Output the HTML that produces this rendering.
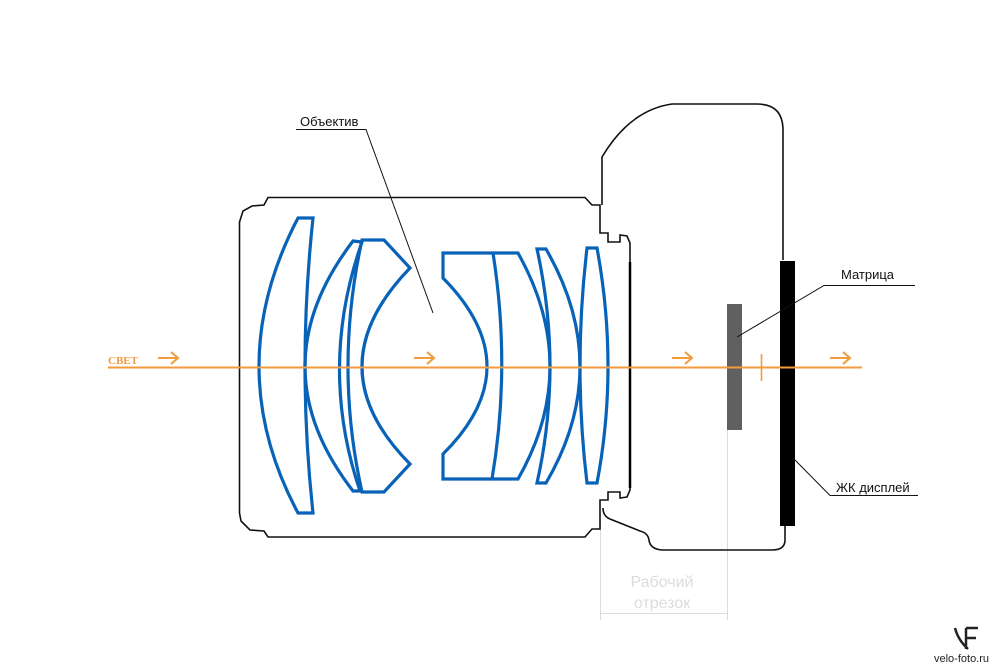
<!DOCTYPE html>
<html><head><meta charset="utf-8"><style>
html,body{margin:0;padding:0;background:#fff;}
svg{display:block}
text{font-family:"Liberation Sans",Arial,sans-serif;}
</style></head><body>
<svg width="1000" height="667" viewBox="0 0 1000 667" xmlns="http://www.w3.org/2000/svg">
<rect width="1000" height="667" fill="#fff"/>
<!-- dimension lines -->
<g stroke="#dcdcdc" stroke-width="1" fill="none">
<line x1="600.5" y1="520" x2="600.5" y2="620"/>
<line x1="727.5" y1="430" x2="727.5" y2="620"/>
<line x1="600" y1="613.5" x2="727" y2="613.5"/>
</g>
<text x="662" y="587" font-size="16" fill="#dcdcdc" text-anchor="middle">Рабочий</text>
<text x="662" y="608" font-size="16" fill="#dcdcdc" text-anchor="middle">отрезок</text>
<!-- lens barrel -->
<path d="M268,197.5 L585,197.5 L592,205 L600,205 L600,233 L608,233 L608,242 L620,242 L620,235 L627,236 L630,243 L630,490 L627,497 L620,498 L620,492 L608,492 L608,500 L600,500 L600,529 L592,529 L585,537 L268,537 L264,531 L250,530 L241,521 L239.5,513 L239.5,222 L243,211 L252,206 L264,205 Z" fill="none" stroke="#111" stroke-width="1.6"/>
<line x1="630" y1="262" x2="630" y2="488" stroke="#000" stroke-width="2.5"/>
<!-- camera body -->
<path d="M602,205 L602,157 Q630,110 672,104 L757,104 Q783,104 783,130 L783,260 M785,526 L785,540 Q785,550 772,550 L662,550 Q650,549 649,540 Q648,533 640,531 L610,519 Q603,516 603,508" fill="none" stroke="#111" stroke-width="1.6"/>
<!-- sensor & display -->
<rect x="727" y="304" width="15" height="126" fill="#606060"/>
<rect x="780" y="261" width="15" height="265" fill="#000"/>
<!-- lenses -->
<g fill="none" stroke="#0863b8" stroke-width="3.2" stroke-linejoin="miter">
<path d="M298,218 L313,218 Q297,367 313,513 L298,513 Q220,367 298,218 Z"/>
<path d="M353,241 L362,242 Q318,367 360,491 L353,491 Q257,367 353,241 Z"/>
<path d="M362,240 L384,240 L410,268 Q314,367 410,464 L384,492 L362,492 Q334,367 362,240 Z"/>
<path d="M443,253 L493,253 Q511,367 492,479 L443,479 L443,454 Q531,367 443,278 Z"/>
<path d="M493,253 L518,253 Q582,367 518,479 L492,479"/>
<path d="M537,249 L546,249 Q614,367 546,483 L537,483 Q563,367 537,249 Z"/>
<path d="M587,248 L597,248 Q619,367 597,483 L587,483 Q573,367 587,248 Z"/>
</g>
<!-- optical axis -->
<line x1="108" y1="367.5" x2="862" y2="367.5" stroke="#f39a3c" stroke-width="2"/>
<line x1="761.5" y1="354" x2="761.5" y2="381" stroke="#f39a3c" stroke-width="1.6"/>
<g stroke="#f39a3c" stroke-width="2" fill="none">
<path d="M158,358 L177,358 M171,352 L178,358 L171,364"/>
<path d="M414,358 L433,358 M427,352 L434,358 L427,364"/>
<path d="M672,358 L691,358 M685,352 L692,358 L685,364"/>
<path d="M830,358 L849,358 M843,352 L850,358 L843,364"/>
</g>
<text x="108" y="364" font-size="11" font-weight="bold" fill="#f39a3c" style="font-family:'Liberation Serif',serif">СВЕТ</text>
<!-- labels -->
<text x="300" y="126" font-size="13" fill="#111">Объектив</text>
<path d="M296,129.5 L366,129.5 L433,313" fill="none" stroke="#111" stroke-width="1"/>
<text x="841" y="279" font-size="13" fill="#111">Матрица</text>
<path d="M915,285.5 L824,285.5 L737,337" fill="none" stroke="#111" stroke-width="1"/>
<text x="836" y="492" font-size="13" fill="#111">ЖК дисплей</text>
<path d="M918,495.5 L830,495.5 L795,460" fill="none" stroke="#111" stroke-width="1"/>
<!-- logo -->
<path d="M955,628 Q958,640 968,649 M966,628 L966,649 M966,628 L978,628 M966,638 L976,638" fill="none" stroke="#222" stroke-width="2.5"/>
<text x="934" y="662" font-size="11" fill="#222">velo-foto.ru</text>
</svg>
</body></html>
